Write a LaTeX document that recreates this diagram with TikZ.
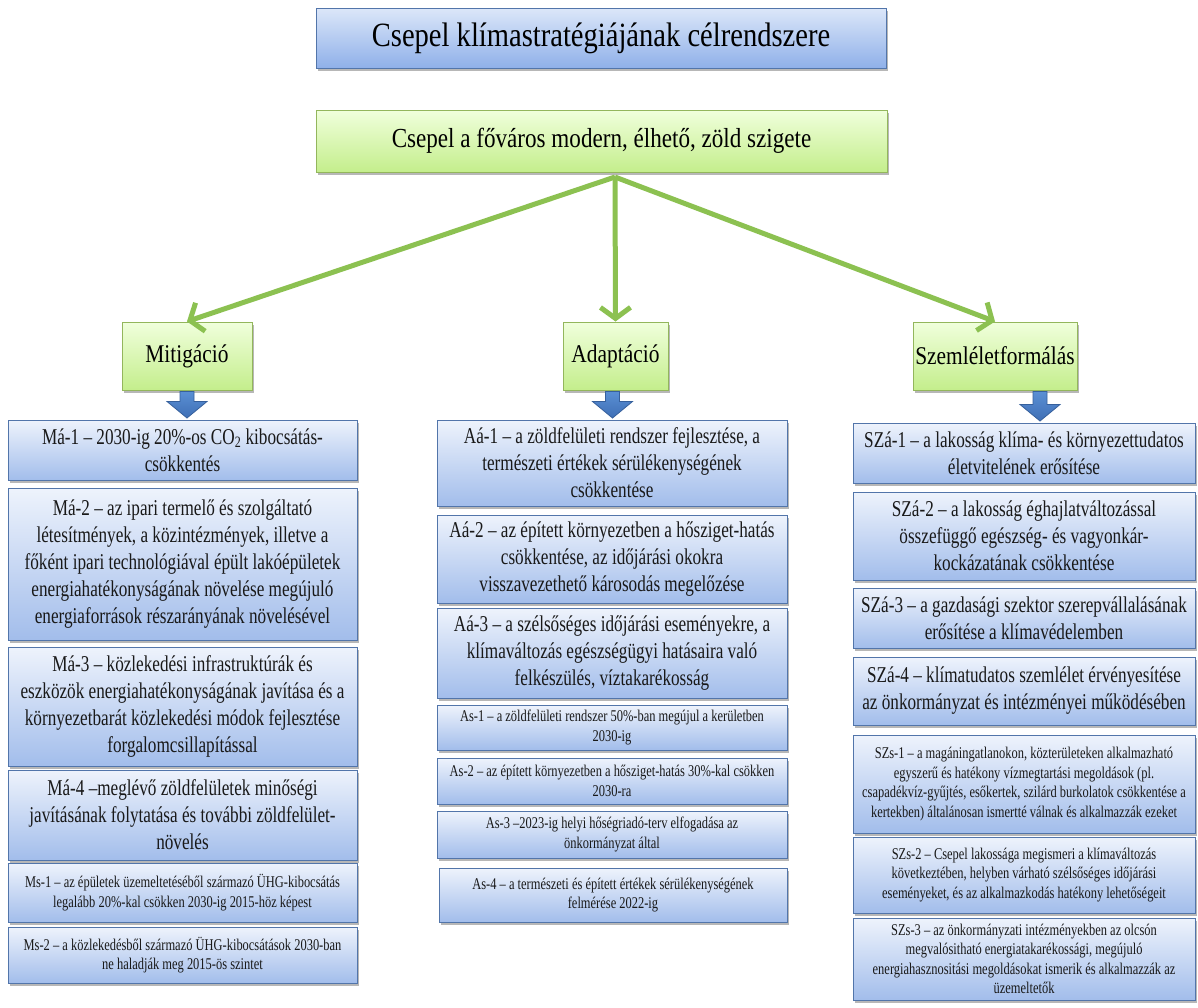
\documentclass[tikz,border=0pt]{standalone}
\usepackage{fontspec}
\setmainfont{Liberation Serif}[FakeStretch=0.76]
\newfontfamily\topfont{Liberation Serif}[FakeStretch=0.84]
\usetikzlibrary{arrows.meta,shadows,calc}
\definecolor{bluetop}{HTML}{EEF3FC}
\definecolor{bluebot}{HTML}{A2BDEB}
\definecolor{boxline}{HTML}{5275AA}
\definecolor{titletop}{HTML}{DCE7F9}
\definecolor{titlebot}{HTML}{8FB0E9}
\definecolor{greentop}{HTML}{F0FFDC}
\definecolor{greenbot}{HTML}{C4EE8C}
\definecolor{greenline}{HTML}{93B65C}
\definecolor{arrowgreen}{HTML}{8CC151}
\definecolor{barrowtop}{HTML}{5A8FD4}
\definecolor{barrowbot}{HTML}{3F6FB5}
\definecolor{barrowline}{HTML}{36609C}
\tikzset{
  shad/.style={drop shadow={shadow xshift=2pt, shadow yshift=-2.5pt, opacity=0.4, fill=black!70}},
  box/.style={draw=boxline, line width=1pt, top color=bluetop, bottom color=bluebot,
    align=center, inner sep=2pt, shad, text=black!90},
  titlebox/.style={draw=boxline, line width=1pt, top color=titletop, bottom color=titlebot,
    align=center, inner sep=2pt, shad, font=\topfont\fontsize{34}{40}\selectfont},
  greenbox/.style={draw=greenline, line width=1pt, top color=greentop, bottom color=greenbot,
    align=center, inner sep=2pt, shad},
  goalfont/.style={font=\topfont\fontsize{27.5}{32}\selectfont},
  headfont/.style={font=\topfont\fontsize{25.5}{30}\selectfont},
  big/.style={font=\fontsize{22.6}{27}\selectfont},
  small/.style={font=\fontsize{16.4}{19.5}\selectfont},
  garrow/.style={draw=arrowgreen, line width=5pt, -{Straight Barb[length=11pt,width=30pt]}},
  barrow/.style={draw=barrowline, line width=0.8pt, top color=barrowtop, bottom color=barrowbot},
  leftcol/.style={box, minimum width=349pt},
  midcol/.style={box, minimum width=350pt},
  rightcol/.style={box, minimum width=342pt},
}
\newcommand\blockarr[3]{%
  \path[barrow] let \p1=($(#1)+(#3,0)$), \p2=(#2) in
    (\x1-7pt,\y1-1pt) -- (\x1-7pt,\y2+18pt) -- (\x1-20pt,\y2+18pt) -- (\x1,\y2+1.5pt)
    -- (\x1+20pt,\y2+18pt) -- (\x1+7pt,\y2+18pt) -- (\x1+7pt,\y1-1pt) -- cycle;}
\begin{document}
\begin{tikzpicture}[x=1pt,y=-1pt]
\fill[white] (0,0) rectangle (1198,1007);
\useasboundingbox (0,0) rectangle (1198,1007);

% top
\node[titlebox, minimum width=570pt, minimum height=60pt] (title) at (601,38) {Csepel klímastratégiájának célrendszere};
\node[greenbox, goalfont, minimum width=571pt, minimum height=62pt] (goal) at (601.5,141) {Csepel a főváros modern, élhető, zöld szigete};

% headings
\node[greenbox, headfont, minimum width=130pt, minimum height=68pt] (mit) at (187,356) {Mitigáció};
\node[greenbox, headfont, minimum width=105pt, minimum height=68pt] (ada) at (615.5,356) {Adaptáció};
\node[greenbox, headfont, minimum width=164pt, minimum height=68pt] (szem) at (995,356) {Szemléletformálás};

\coordinate (hub) at (615,177);
\draw[garrow] (hub) -- (mit.north);
\draw[garrow] (hub) -- (ada.north);
\draw[garrow] (hub) -- (szem.north);

% left column
\node[leftcol, big, minimum height=60pt] (ma1) at (182.5,450) {Má-1 – 2030-ig 20\%-os CO\textsubscript{2} kibocsátás-\\csökkentés};
\node[leftcol, big, minimum height=152pt] (ma2) at (182.5,564) {Má-2 – az ipari termelő és szolgáltató\\létesítmények, a közintézmények, illetve a\\főként ipari technológiával épült lakóépületek\\energiahatékonyságának növelése megújuló\\energiaforrások részarányának növelésével};
\node[leftcol, big, minimum height=119pt] (ma3) at (182.5,706.5) {Má-3 – közlekedési infrastruktúrák és\\eszközök energiahatékonyságának javítása és a\\környezetbarát közlekedési módok fejlesztése\\forgalomcsillapítással};
\node[leftcol, big, minimum height=90pt] (ma4) at (182.5,815) {Má-4 –meglévő zöldfelületek minőségi\\javításának folytatása és további zöldfelület-\\növelés};
\node[leftcol, small, minimum height=59pt] (ms1) at (182.5,892.5) {Ms-1 – az épületek üzemeltetéséből származó ÜHG-kibocsátás\\legalább 20\%-kal csökken 2030-ig 2015-höz képest};
\node[leftcol, small, minimum height=56pt] (ms2) at (182.5,955) {Ms-2 – a közlekedésből származó ÜHG-kibocsátások 2030-ban\\ne haladják meg 2015-ös szintet};

% middle column
\node[midcol, big, minimum height=86pt] (aa1) at (612,463) {Aá-1 – a zöldfelületi rendszer fejlesztése, a\\természeti értékek sérülékenységének\\csökkentése};
\node[midcol, big, minimum height=88pt] (aa2) at (612,559) {Aá-2 – az épített környezetben a hősziget-hatás\\csökkentése, az időjárási okokra\\visszavezethető károsodás megelőzése};
\node[midcol, big, minimum height=90pt] (aa3) at (612,653) {Aá-3 – a szélsőséges időjárási eseményekre, a\\klímaváltozás egészségügyi hatásaira való\\felkészülés, víztakarékosság};
\node[midcol, small, minimum height=45pt] (as1) at (612,727.5) {As-1 – a zöldfelületi rendszer 50\%-ban megújul a kerületben\\2030-ig};
\node[midcol, small, minimum height=46pt] (as2) at (612,781) {As-2 – az épített környezetben a hősziget-hatás 30\%-kal csökken\\2030-ra};
\node[midcol, small, minimum height=47pt] (as3) at (612,834.5) {As-3 –2023-ig helyi hőségriadó-terv elfogadása az\\önkormányzat által};
\node[box, small, minimum width=348pt, minimum height=54pt] (as4) at (613,895) {As-4 – a természeti és épített értékek sérülékenységének\\felmérése 2022-ig};

% right column
\node[rightcol, big, minimum height=60pt] (sza1) at (1024,453) {SZá-1 – a lakosság klíma- és környezettudatos\\életvitelének erősítése};
\node[rightcol, big, minimum height=88pt] (sza2) at (1024,536) {SZá-2 – a lakosság éghajlatváltozással\\összefüggő egészség- és vagyonkár-\\kockázatának csökkentése};
\node[rightcol, big, minimum height=60pt] (sza3) at (1024,618) {SZá-3 – a gazdasági szektor szerepvállalásának\\erősítése a klímavédelemben};
\node[rightcol, big, minimum height=68pt] (sza4) at (1024,691) {SZá-4 – klímatudatos szemlélet érvényesítése\\az önkormányzat és intézményei működésében};
\node[rightcol, small, minimum height=98pt] (szs1) at (1024,784) {SZs-1 – a magáningatlanokon, közterületeken alkalmazható\\egyszerű és hatékony vízmegtartási megoldások (pl.\\csapadékvíz-gyűjtés, esőkertek, szilárd burkolatok csökkentése a\\kertekben) általánosan ismertté válnak és alkalmazzák ezeket};
\node[rightcol, small, minimum height=76pt] (szs2) at (1024,875) {SZs-2 – Csepel lakossága megismeri a klímaváltozás\\következtében, helyben várható szélsőséges időjárási\\eseményeket, és az alkalmazkodás hatékony lehetőségeit};
\node[rightcol, small, minimum height=82pt] (szs3) at (1024,959) {SZs-3 – az önkormányzati intézményekben az olcsón\\megvalósitható energiatakarékossági, megújuló\\energiahasznositási megoldásokat ismerik és alkalmazzák az\\üzemeltetők};

% block arrows
\blockarr{mit.south}{ma1.north}{0}
\blockarr{ada.south}{aa1.north}{-3}
\blockarr{szem.south}{sza1.north}{45}
\end{tikzpicture}
\end{document}
